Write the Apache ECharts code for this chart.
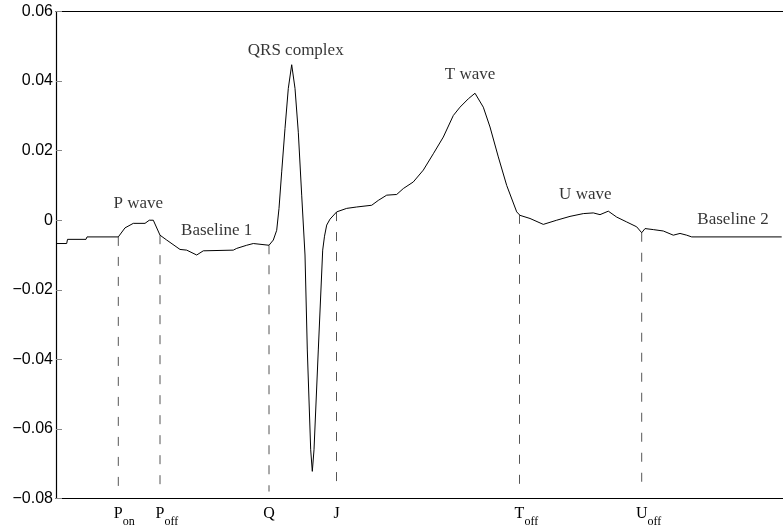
<!DOCTYPE html>
<html>
<head>
<meta charset="utf-8">
<script src="https://cdn.jsdelivr.net/npm/echarts@6/dist/echarts.min.js"></script>
<style>
  html, body { margin: 0; padding: 0; background: #fff; }
  #chart { width: 783px; height: 529px; }
</style>
</head>
<body>
<div id="chart"></div>
<script>
// ECG trace (x in sample units, y in signal units)
const ecgX = [0, 10.7, 11.5, 30, 31, 62.3, 69, 77.3, 89, 93.3, 97.3, 104, 110.7, 124, 130.7, 140.7, 147.3, 177.3, 180.7, 190.7, 197.3, 213,
  217.3, 220.7, 223, 225.7, 229, 232.3, 235.7, 239, 242.3, 245.7, 249, 251.3, 254.7, 256.3, 258, 262.3, 266.7, 268.5, 270.7, 274, 280.7,
  290.7, 300.7, 315.7, 322.3, 330.7, 340.7, 347.3, 357.3, 367.3, 377.3, 387.3, 397.3, 404, 412.3, 419, 427.3, 434, 442.3, 450.7, 460.7, 464,
  474, 487.3, 500.7, 514, 527.3, 537.3, 544, 552.3, 560.7, 570.7, 580.7, 585.7, 589, 597.3, 607.3, 617.3, 624, 630.7, 635.7, 725.7];
const ecgY = [-0.0067, -0.0067, -0.0055, -0.0055, -0.0048, -0.0048, -0.0022, -0.0009, -0.0009, 0.0, 0.0, -0.0043, -0.0057, -0.0084, -0.0086, -0.0100, -0.0088, -0.0086, -0.0081, -0.0072, -0.0067, -0.0072,
  -0.0057, -0.0029, 0.0034, 0.0139, 0.0264, 0.0379, 0.0447, 0.0379, 0.0253, 0.0072, -0.0100, -0.0373, -0.0660, -0.0722, -0.0660, -0.0373, -0.0086, -0.0046, -0.0014, 0.0003, 0.0024,
  0.0034, 0.0038, 0.0043, 0.0057, 0.0072, 0.0074, 0.0091, 0.0110, 0.0144, 0.0191, 0.0239, 0.0301, 0.0325, 0.0349, 0.0365, 0.0325, 0.0268, 0.0182, 0.0100, 0.0024, 0.0014,
  0.0005, -0.0012, 0.0, 0.0011, 0.0019, 0.0021, 0.0016, 0.0026, 0.0009, -0.0005, -0.0019, -0.0036, -0.0024, -0.0027, -0.0031, -0.0043, -0.0038, -0.0043, -0.0048, -0.0048];

// Fiducial markers
const markerX = [62.3, 104, 213, 280.5, 463.5, 585.7];
const markerMain = ['P', 'P', 'Q', 'J', 'T', 'U'];
const markerSub = ['on', 'off', '', '', 'off', 'off'];
const markerBottom = -0.078;

// Annotations
const noteText = ['P wave', 'Baseline 1', 'QRS complex', 'T wave', 'U wave', 'Baseline 2'];
const noteX = [82.3, 160.7, 239.7, 414, 529.3, 677];
const noteY = [0.0049, -0.0029, 0.0488, 0.0418, 0.0075, 0.0003];

// Y axis ticks
const yMin = -0.08, yMax = 0.06, yStep = 0.02;
const xMin = 0, xMax = 727;

function interp(x) {
  for (let i = 0; i < ecgX.length - 1; i++) {
    if (x >= ecgX[i] && x <= ecgX[i + 1]) {
      const t = (x - ecgX[i]) / (ecgX[i + 1] - ecgX[i]);
      return ecgY[i] + t * (ecgY[i + 1] - ecgY[i]);
    }
  }
  return ecgY[ecgY.length - 1];
}

const chart = echarts.init(document.getElementById('chart'), null, { renderer: 'canvas' });

const series = [{
  type: 'line',
  data: ecgX.map((x, i) => [x, ecgY[i]]),
  showSymbol: false,
  symbol: 'none',
  lineStyle: { color: '#000', width: 1 },
  silent: true,
  animation: false,
  z: 3
}];

markerX.forEach(x => {
  series.push({
    type: 'line',
    data: [[x, interp(x)], [x, markerBottom]],
    symbol: 'none',
    lineStyle: { color: '#555', width: 1, type: [9, 11] },
    silent: true,
    animation: false,
    z: 2
  });
});

series.push({
  type: 'scatter',
  data: noteX.map((x, i) => [x, noteY[i], noteText[i]]),
  symbolSize: 0,
  silent: true,
  animation: false,
  label: {
    show: true,
    position: 'inside',
    formatter: p => p.data[2],
    fontFamily: 'Liberation Serif',
    fontSize: 17,
    color: '#000'
  }
});

const option = {
  backgroundColor: '#fff',
  animation: false,
  grid: { left: 56, right: 0, top: 11.5, bottom: 30.5 },
  xAxis: [{
    type: 'value',
    min: xMin,
    max: xMax,
    position: 'bottom',
    axisLine: { show: true, onZero: false, lineStyle: { color: '#000', width: 1.2 } },
    axisTick: { show: false },
    splitLine: { show: false },
    axisLabel: {
      show: true,
      customValues: markerX,
      margin: 7,
      formatter: function (value) {
        let k = 0, best = Infinity;
        markerX.forEach((m, i) => { const d = Math.abs(m - value); if (d < best) { best = d; k = i; } });
        const sub = markerSub[k];
        if (!sub) return '{b|' + markerMain[k] + '}';
        return '{h|' + sub + '}{b|' + markerMain[k] + '}{s|' + sub + '}';
      },
      rich: {
        b: { fontFamily: 'Liberation Serif', fontSize: 16, lineHeight: 16, color: '#000', verticalAlign: 'top' },
        s: { fontFamily: 'Liberation Serif', fontSize: 12, lineHeight: 12, color: '#000', verticalAlign: 'top', padding: [10, 0, 0, 0] },
        h: { fontFamily: 'Liberation Serif', fontSize: 12, lineHeight: 12, color: 'rgba(0,0,0,0)', verticalAlign: 'top', padding: [10, 0, 0, 0] }
      }
    }
  }, {
    type: 'value',
    min: xMin,
    max: xMax,
    position: 'top',
    axisLine: { show: true, onZero: false, lineStyle: { color: '#000', width: 1.2 } },
    axisTick: { show: false },
    axisLabel: { show: false },
    splitLine: { show: false }
  }],
  yAxis: {
    type: 'value',
    min: yMin,
    max: yMax,
    interval: yStep,
    axisLine: { show: true, onZero: false, lineStyle: { color: '#000', width: 1.2 } },
    axisTick: { show: true, inside: true, length: 6, lineStyle: { color: '#888' } },
    splitLine: { show: false },
    axisLabel: {
      margin: 3,
      fontFamily: 'Liberation Sans',
      fontSize: 16,
      color: '#000',
      formatter: v => Math.abs(v) < 1e-9 ? '0' : v.toFixed(2).replace('-', '\u2212')
    }
  },
  series: series
};

chart.setOption(option);
</script>
</body>
</html>
